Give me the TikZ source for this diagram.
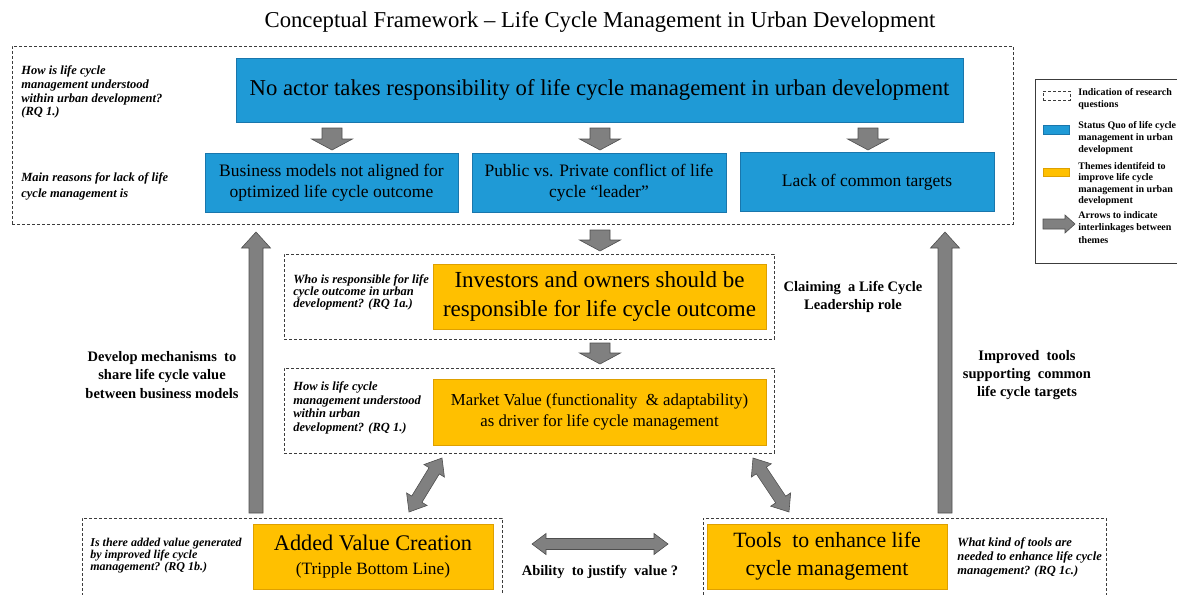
\documentclass[tikz,border=0pt]{standalone}
\usepackage{fontspec}
\setmainfont{Liberation Serif}
\usetikzlibrary{calc}

\definecolor{statusblue}{RGB}{31,154,214}
\definecolor{statusedge}{RGB}{25,118,172}
\definecolor{themeorange}{RGB}{255,192,0}
\definecolor{themeedge}{RGB}{222,160,0}
\definecolor{arrowfill}{RGB}{128,128,128}
\definecolor{arrowedge}{RGB}{78,78,78}
\definecolor{frameline}{RGB}{60,60,60}

\tikzset{every picture/.style={line width=0.75pt}}
\tikzset{
  statusbox/.style={draw=statusedge, fill=statusblue, line width=0.6pt, align=center, inner sep=0pt},
  themebox/.style={draw=themeedge, fill=themeorange, line width=0.6pt, align=center, inner sep=0pt},
  rqframe/.style={draw=frameline, dash pattern=on 3pt off 2pt, line width=0.6pt, inner sep=0pt},
  rqtext/.style={font=\bfseries\itshape\fontsize{12.5}{13.7}\selectfont, align=left, inner sep=0pt, anchor=north west},
  linktext/.style={font=\bfseries\fontsize{14.5}{18.3}\selectfont, align=center, inner sep=0pt},
  keytext/.style={font=\bfseries\fontsize{10}{12.5}\selectfont, align=left, inner sep=0pt, anchor=north west},
  arrowbody/.style={draw=arrowedge, fill=arrowfill, line width=0.6pt, line join=miter},
  fatarrow/.style n args={3}{arrowbody, to path={
    ($(\tikztostart)!#1!90:(\tikztotarget)$)
    -- ($(\tikztotarget)!#3!(\tikztostart)!#1!90:(\tikztotarget)$)
    -- ($(\tikztotarget)!#3!(\tikztostart)!#2!90:(\tikztotarget)$)
    -- (\tikztotarget)
    -- ($(\tikztotarget)!#3!(\tikztostart)!#2!-90:(\tikztotarget)$)
    -- ($(\tikztotarget)!#3!(\tikztostart)!#1!-90:(\tikztotarget)$)
    -- ($(\tikztostart)!#1!-90:(\tikztotarget)$) -- cycle}},
  twinarrow/.style n args={3}{arrowbody, to path={
    (\tikztostart)
    -- ($(\tikztostart)!#3!(\tikztotarget)!#2!90:(\tikztotarget)$)
    -- ($(\tikztostart)!#3!(\tikztotarget)!#1!90:(\tikztotarget)$)
    -- ($(\tikztotarget)!#3!(\tikztostart)!#1!90:(\tikztotarget)$)
    -- ($(\tikztotarget)!#3!(\tikztostart)!#2!90:(\tikztotarget)$)
    -- (\tikztotarget)
    -- ($(\tikztotarget)!#3!(\tikztostart)!#2!-90:(\tikztotarget)$)
    -- ($(\tikztotarget)!#3!(\tikztostart)!#1!-90:(\tikztotarget)$)
    -- ($(\tikztostart)!#3!(\tikztotarget)!#1!-90:(\tikztotarget)$)
    -- ($(\tikztostart)!#3!(\tikztotarget)!#2!-90:(\tikztotarget)$) -- cycle}},
  stepdown/.style={fatarrow={10pt}{20.5pt}{11pt}},
  longup/.style={fatarrow={7pt}{14.5pt}{16pt}},
  diagtwin/.style={twinarrow={6pt}{12pt}{15pt}},
  flattwin/.style={twinarrow={5.5pt}{10.5pt}{14pt}},
  keyarrow/.style={fatarrow={5pt}{9pt}{10pt}}
}

\begin{document}
\begin{tikzpicture}[x=1pt,y=1pt,yscale=-1,xscale=1]
\useasboundingbox (0,0) rectangle (1177,594);

% Text Node
\node[font=\fontsize{22.7}{26}\selectfont] (title) at (600,22) {Conceptual Framework -- Life Cycle Management in Urban Development};

%Shape: Rectangle [research question frames]
\node[rqframe, minimum width=1001, minimum height=178] (topframe) at (512.5,135) {};
\node[rqframe, minimum width=490, minimum height=85] (leadframe) at (529,296.5) {};
\node[rqframe, minimum width=490, minimum height=85] (valueframe) at (529,410.5) {};
\node[rqframe, minimum width=420, minimum height=90] (addframe) at (292,563) {};
\node[rqframe, minimum width=403, minimum height=90] (toolframe) at (904.5,563) {};

%Shape: Rectangle [status quo]
\node[statusbox, minimum width=727, minimum height=64, font=\fontsize{22.7}{26}\selectfont] (noactor) at (599.5,90) {No actor takes responsibility of life cycle management in urban development};
\node[statusbox, minimum width=253, minimum height=59, font=\fontsize{17.5}{21}\selectfont] (business) at (331.5,182.5) {Business models not aligned for\\optimized life cycle outcome};
\node[statusbox, minimum width=254, minimum height=59, font=\fontsize{17.5}{21}\selectfont] (public) at (599,183) {Public vs. Private conflict of life\\cycle “leader”};
\node[statusbox, minimum width=254, minimum height=59, font=\fontsize{17.5}{21}\selectfont] (targets) at (867,182) {Lack of common targets};

%Shape: Rectangle [themes]
\node[themebox, minimum width=333, minimum height=65, font=\fontsize{23}{29}\selectfont] (investors) at (599.5,296.5) {Investors and owners should be\\responsible for life cycle outcome};
\node[themebox, minimum width=333, minimum height=66, font=\fontsize{16.8}{21}\selectfont] (market) at (599.5,412) {Market Value (functionality \ \& adaptability)\\as driver for life cycle management};
\node[themebox, minimum width=240, minimum height=65, font=\fontsize{22.3}{24}\selectfont] (added) at (373,556.5) {Added Value Creation\\{\fontsize{17.3}{24}\selectfont (Tripple Bottom Line)}};
\node[themebox, minimum width=240, minimum height=65, font=\fontsize{21.8}{28}\selectfont] (tools) at (827,556.5) {Tools \ to enhance life\\cycle management};

% Text Node [research questions]
\node[rqtext] (rqone) at (21,65.5) {How is life cycle\\management understood\\within urban development?\\(RQ 1.)};
\node[rqtext, font=\bfseries\itshape\fontsize{12.5}{16}\selectfont] (rqreasons) at (21,172.5) {Main reasons for lack of life\\cycle management is};
\node[rqtext, font=\bfseries\itshape\fontsize{12.5}{11.8}\selectfont] (rqlead) at (293,274.5) {Who is responsible for life\\cycle outcome in urban\\development? (RQ 1a.)};
\node[rqtext, font=\bfseries\itshape\fontsize{12.5}{13.6}\selectfont] (rqvalue) at (293,381.5) {How is life cycle\\management understood\\within urban\\development? (RQ 1.)};
\node[rqtext, font=\bfseries\itshape\fontsize{12}{8.8}\selectfont] (rqadded) at (90,538) {Is there added value generated\\by improved life cycle\\management? (RQ 1b.)};
\node[rqtext, font=\bfseries\itshape\fontsize{12.5}{14}\selectfont] (rqtools) at (957,537.5) {What kind of tools are\\needed to enhance life cycle\\management? (RQ 1c.)};

% Text Node [interlinkages]
\node[linktext] (claiming) at (853,297) {Claiming \ a Life Cycle\\Leadership role};
\node[linktext] (develop) at (162,375) {Develop mechanisms \ to\\share life cycle value\\between business models};
\node[linktext] (improved) at (1027,375) {Improved \ tools\\supporting \ common\\life cycle targets};
\node[linktext] (ability) at (600,572) {Ability \ to justify \ value ?};

%Straight Lines [block arrows]
\coordinate (busin) at (332,128);   \coordinate (busout) at (332,150);
\coordinate (pubin) at (600,128);   \coordinate (pubout) at (600,150);
\coordinate (tarin) at (868,128);   \coordinate (tarout) at (868,150);
\coordinate (leadin) at (600,230);  \coordinate (leadout) at (600,251);
\coordinate (markin) at (600,343);  \coordinate (markout) at (600,364);
\coordinate (devlow) at (256,513);  \coordinate (devtop) at (256,232);
\coordinate (implow) at (945,513);  \coordinate (imptop) at (945,232);
\coordinate (addtip) at (409,512);  \coordinate (addvaltip) at (442,458);
\coordinate (tooltip) at (789,512); \coordinate (toolvaltip) at (753,458);
\coordinate (ablleft) at (532,544); \coordinate (ablright) at (668,544);
\draw[stepdown] (busin) to (busout);
\draw[stepdown] (pubin) to (pubout);
\draw[stepdown] (tarin) to (tarout);
\draw[stepdown] (leadin) to (leadout);
\draw[stepdown] (markin) to (markout);
\draw[longup] (devlow) to (devtop);
\draw[longup] (implow) to (imptop);
\draw[diagtwin] (addtip) to (addvaltip);
\draw[diagtwin] (tooltip) to (toolvaltip);
\draw[flattwin] (ablleft) to (ablright);

%Shape: Rectangle [legend]
\draw[draw=frameline, line width=0.8pt] (1035,79) rectangle (1200,263);
\node[rqframe, minimum width=27, minimum height=9] (keyframe) at (1056.5,95.5) {};
\node[statusbox, minimum width=26, minimum height=9] (keystatus) at (1056,129.5) {};
\node[themebox, minimum width=26, minimum height=8] (keytheme) at (1056,172) {};
\coordinate (keyin) at (1043,224); \coordinate (keyout) at (1075,224);
\draw[keyarrow] (keyin) to (keyout);

% Text Node [legend]
\node[keytext] (keyframetext) at (1078,88) {Indication of research\\questions};
\node[keytext, font=\bfseries\fontsize{10}{12}\selectfont] (keystatustext) at (1078,121) {Status Quo of life cycle\\management in urban\\development};
\node[keytext, font=\bfseries\fontsize{10}{11.5}\selectfont] (keythemetext) at (1078,162) {Themes identifeid to\\improve life cycle\\management in urban\\development};
\node[keytext, font=\bfseries\fontsize{10}{12.5}\selectfont] (keyarrowtext) at (1078,211) {Arrows to indicate\\interlinkages between\\themes};

\end{tikzpicture}
\end{document}
